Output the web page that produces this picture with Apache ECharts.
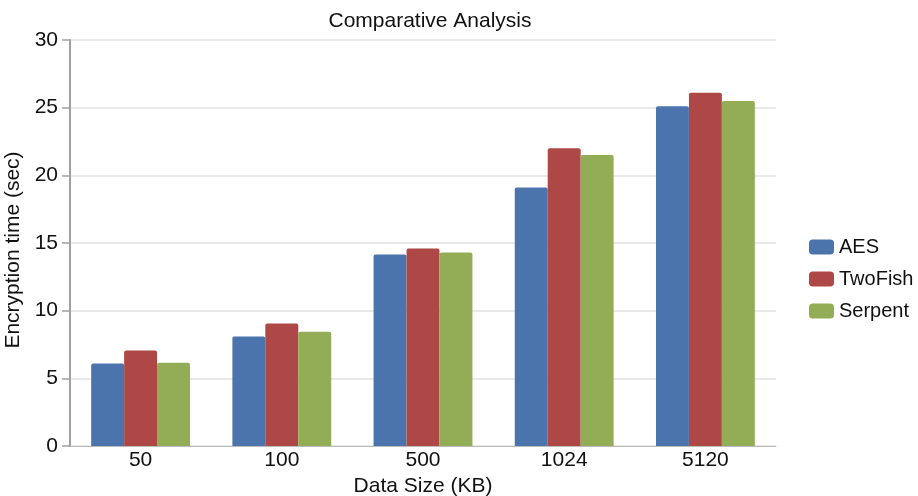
<!DOCTYPE html>
<html><head><meta charset="utf-8">
<script src="https://cdn.jsdelivr.net/npm/echarts@6/dist/echarts.min.js"></script>
<style>html,body{margin:0;padding:0;background:#fff}#c{width:918px;height:496px}</style>
</head><body><div id="c"></div>
<script>
const categories = ['50','100','500','1024','5120'];
const aes = [6.1, 8.1, 14.15, 19.1, 25.1];
const twofish = [7.05, 9.05, 14.6, 22.0, 26.1];
const serpent = [6.15, 8.45, 14.3, 21.5, 25.5];
const seriesNames = ['AES','TwoFish','Serpent'];
const font = 'Liberation Sans, Arial, sans-serif';
const chart = echarts.init(document.getElementById('c'));
const mk = (name, data, color) => ({
  name, type: 'bar', data, barGap: '0%', barCategoryGap: '30%',
  itemStyle: {color, borderRadius: [2,2,0,0]}
});
chart.setOption({
  animation: false,
  title: {text: 'Comparative Analysis', left: 425, top: 6, textAlign: 'center',
    textStyle: {fontFamily: font, fontSize: 21, fontWeight: 'normal', color: '#111'}},
  legend: {orient: 'vertical', left: 804, top: 232, itemWidth: 25, itemHeight: 15, itemGap: 12, itemTextGap: 2,
    icon: 'roundRect', data: seriesNames,
    textStyle: {fontFamily: font, fontSize: 20, color: '#111'}},
  grid: {left: 70, right: 142, top: 40, bottom: 50, outerBoundsMode: 'none', containLabel: false},
  xAxis: {type: 'category', data: categories, name: 'Data Size (KB)', nameLocation: 'middle', nameGap: 24,
    nameTextStyle: {fontFamily: font, fontSize: 21, color: '#111'},
    axisLine: {lineStyle: {color: '#bbb', width: 1}}, axisTick: {show: false},
    axisLabel: {fontFamily: font, fontSize: 21, color: '#111', margin: 4}},
  yAxis: {type: 'value', min: 0, max: 30, interval: 5, name: 'Encryption time (sec)', nameLocation: 'middle', nameGap: 41,
    nameTextStyle: {fontFamily: font, fontSize: 21, color: '#111', padding: [0, 14, 0, 0]},
    axisLine: {show: true, lineStyle: {color: '#a0a0a0', width: 2}},
    axisTick: {show: true, length: 8, lineStyle: {color: '#a0a0a0', width: 1.5}},
    axisLabel: {fontFamily: font, fontSize: 21, color: '#111', margin: 12},
    splitLine: {lineStyle: {color: '#e2e2e2', width: 1.5}}},
  series: [mk('AES', aes, '#4a74ab'), mk('TwoFish', twofish, '#ad4846'), mk('Serpent', serpent, '#92ad55')]
});
</script></body></html>
